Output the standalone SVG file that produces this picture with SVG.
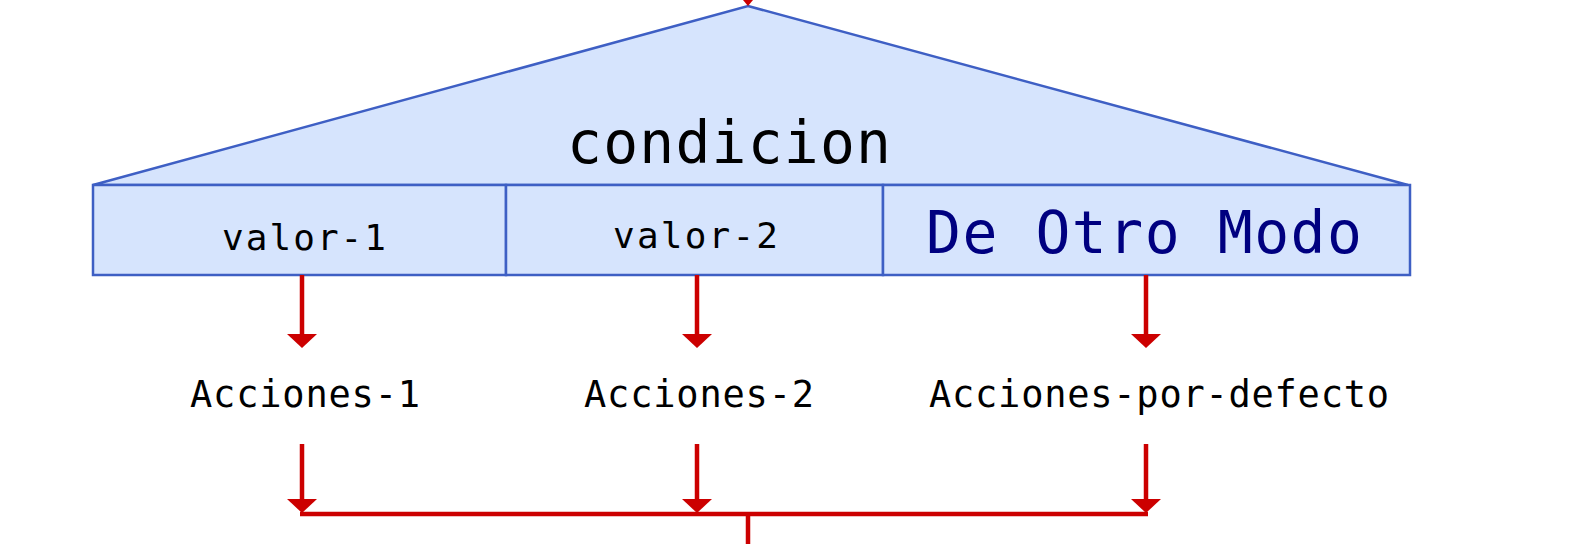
<svg xmlns="http://www.w3.org/2000/svg" width="1572" height="544" viewBox="0 0 1572 544">
<style>
.shape{fill:#d6e4fd;stroke:#3e5fc4;stroke-width:2.5}
.t{font-family:"DejaVu Sans Mono","Liberation Mono",monospace;fill:#000}
.wire{stroke:#cc0000;stroke-width:4.5;fill:none}
.head{fill:#cc0000}
</style>
<rect width="1572" height="544" fill="#fff"/>
<g id="condicion">
<polygon class="shape" points="748,6 1408,185 93,185"/>
<text class="t" x="567" y="163" font-size="58" textLength="324" lengthAdjust="spacing">condicion</text>
</g>
<g id="valor-1">
<rect class="shape" x="93" y="185" width="413" height="90"/>
<text class="t" x="222" y="250" font-size="36" textLength="164" lengthAdjust="spacing">valor-1</text>
</g>
<g id="valor-2">
<rect class="shape" x="506" y="185" width="377" height="90"/>
<text class="t" x="613" y="248" font-size="36" textLength="165" lengthAdjust="spacing">valor-2</text>
</g>
<g id="otro-modo">
<rect class="shape" x="883" y="185" width="527" height="90"/>
<text class="t" x="926" y="253" font-size="58" textLength="436" lengthAdjust="spacing" style="fill:#000080">De Otro Modo</text>
</g>
<g id="acciones-1">
<text class="t" x="190" y="407" font-size="37" textLength="230" lengthAdjust="spacing">Acciones-1</text>
</g>
<g id="acciones-2">
<text class="t" x="584" y="407" font-size="37" textLength="230" lengthAdjust="spacing">Acciones-2</text>
</g>
<g id="acciones-defecto">
<text class="t" x="929" y="407" font-size="37" textLength="460" lengthAdjust="spacing">Acciones-por-defecto</text>
</g>
<g id="connectors">
<path class="wire" d="M748,-10 V0"/>
<polygon class="head" points="738,-6 758,-6 748,6"/>
<path class="wire" d="M302,275 V337 M697,275 V337 M1146,275 V337"/>
<polygon class="head" points="287,334 317,334 302,348"/>
<polygon class="head" points="682,334 712,334 697,348"/>
<polygon class="head" points="1131,334 1161,334 1146,348"/>
<path class="wire" d="M302,444 V502 M697,444 V502 M1146,444 V502"/>
<polygon class="head" points="287,499 317,499 302,513"/>
<polygon class="head" points="682,499 712,499 697,513"/>
<polygon class="head" points="1131,499 1161,499 1146,513"/>
<path class="wire" d="M300,514 H1148 M748,514 V544"/>
</g>
</svg>
